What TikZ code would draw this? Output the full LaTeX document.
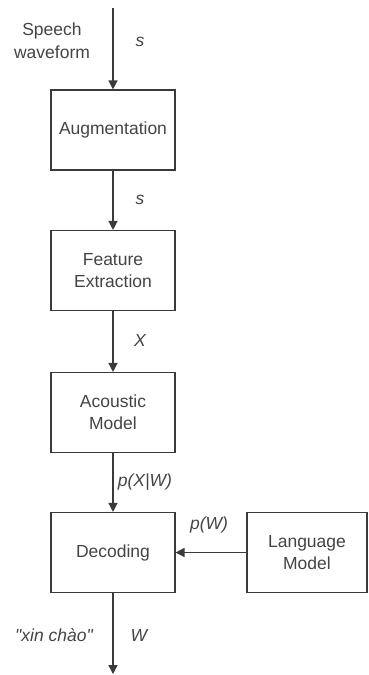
\documentclass[tikz,border=0pt]{standalone}
\usepackage{fontspec}
\setmainfont{Liberation Sans}
\usetikzlibrary{arrows.meta}
\definecolor{linec}{HTML}{3A3A3A}
\definecolor{textc}{HTML}{444444}
\begin{document}
\begin{tikzpicture}[x=1pt,y=-1pt,
  box/.style={draw=linec,line width=1.1pt,rectangle,minimum width=124pt,minimum height=80pt,
    inner sep=0pt,align=center,text=textc,font=\fontsize{17.5}{22}\selectfont},
  lbl/.style={text=textc,font=\fontsize{17.5}{22}\selectfont\itshape,inner sep=0pt,anchor=center},
  txt/.style={text=textc,font=\fontsize{17.5}{23}\selectfont,inner sep=0pt,align=center},
  flow/.style={draw=linec,line width=1.3pt,-{Triangle[width=9pt,length=9pt]}}]
\useasboundingbox (0,0) rectangle (368,675);
\coordinate (top) at (113,8);
\coordinate (bot) at (113,674);
\node[box] (aug) at (113,130) {Augmentation};
\node[box] (fe) at (113,270.5) {Feature\\Extraction};
\node[box] (am) at (113,412.5) {Acoustic\\Model};
\node[box] (dec) at (113,552.5) {Decoding};
\node[box,minimum width=120pt] (lm) at (307,552.5) {Language\\Model};
\draw[flow] (top) -- (aug.north);
\draw[flow] (aug.south) -- (fe.north);
\draw[flow] (fe.south) -- (am.north);
\draw[flow] (am.south) -- (dec.north);
\draw[flow] (lm.west) -- (dec.east);
\draw[flow] (dec.south) -- (bot);
\node[txt] (sw) at (52,41) {Speech\\waveform};
\node[lbl] (s1) at (140,42) {s};
\node[lbl] (s2) at (140,200) {s};
\node[lbl] (x) at (140,340) {X};
\node[lbl] (pxw) at (145,482) {p(X|W)};
\node[lbl] (pw) at (209,525) {p(W)};
\node[lbl] (xc) at (54,635) {\textquotedbl xin chào\textquotedbl};
\node[lbl] (w) at (139,635) {W};
\end{tikzpicture}
\end{document}
